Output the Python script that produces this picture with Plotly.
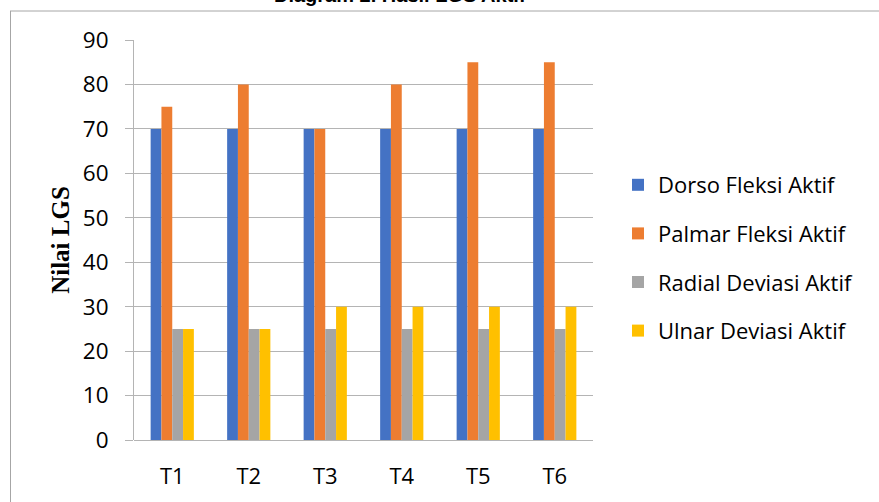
import plotly.graph_objects as go

categories = ["T1", "T2", "T3", "T4", "T5", "T6"]
dorso = [70, 70, 70, 70, 70, 70]
palmar = [75, 80, 70, 80, 85, 85]
radial = [25, 25, 25, 25, 25, 25]
ulnar = [25, 25, 30, 30, 30, 30]
series_names = ["Dorso Fleksi Aktif", "Palmar Fleksi Aktif", "Radial Deviasi Aktif", "Ulnar Deviasi Aktif"]
colors = ["#4472C4", "#ED7D31", "#A5A5A5", "#FFC000"]
y_ticks = [0, 10, 20, 30, 40, 50, 60, 70, 80, 90]

W, H = 879, 502
L, R, T, B = 134, 286, 40, 62
pw, ph = W - L - R, H - T - B

def px(x):
    return (x - L) / pw

def py(y):
    return (H - B - y) / ph

fig = go.Figure()
for name, vals, c in zip(series_names, [dorso, palmar, radial, ulnar], colors):
    fig.add_trace(go.Bar(x=categories, y=vals, name=name, marker=dict(color=c, line=dict(width=0)),
                         legendgroup=name))

font_main = "Open Sans, Noto Sans, sans-serif"
fig.update_layout(
    width=W, height=H,
    margin=dict(l=L, r=R, t=T, b=B, autoexpand=False),
    paper_bgcolor="white", plot_bgcolor="white",
    barmode="group", bargap=0.435, bargroupgap=0,
    font=dict(family=font_main, size=20, color="#000000"),
    showlegend=True,
    legend=dict(x=px(618), y=py(258), xanchor="left", yanchor="middle",
                font=dict(family=font_main, size=22, color="#000000"),
                traceorder="grouped", tracegroupgap=17, itemwidth=30,
                bgcolor="rgba(0,0,0,0)"),
    xaxis=dict(showgrid=False, showline=False, zeroline=False,
               ticks="outside", ticklen=17, tickcolor="rgba(0,0,0,0)",
               tickfont=dict(family=font_main, size=22, color="#000000")),
    yaxis=dict(range=[0, 90], tickvals=y_ticks, showgrid=True, gridcolor="#B4B4B4", gridwidth=1,
               zeroline=True, zerolinecolor="#B4B4B4", zerolinewidth=1,
               showline=True, linecolor="#B4B4B4", linewidth=1,
               ticks="outside", ticklen=8, tickcolor="#B4B4B4",
               ticklabelstandoff=12,
               tickfont=dict(family=font_main, size=22.5, color="#000000"),
               title=dict(text="<b>Nilai LGS</b>", standoff=6,
                          font=dict(family="Liberation Serif, Times New Roman, serif", size=25, color="#000000"))),
    shapes=[
        dict(type="line", xref="paper", yref="paper", x0=px(10), x1=px(879), y0=py(11), y1=py(11),
             line=dict(color="#A6A6A6", width=1)),
        dict(type="line", xref="paper", yref="paper", x0=px(10.5), x1=px(10.5), y0=py(11), y1=py(502),
             line=dict(color="#A6A6A6", width=1)),
    ],
    annotations=[
        dict(text="<b>Diagram 2. Hasil LGS Aktif</b>", xref="paper", yref="paper",
             x=px(400), y=py(8), xanchor="center", yanchor="bottom", showarrow=False,
             font=dict(family="Liberation Sans, Arial, sans-serif", size=20, color="#000000")),
    ],
)

fig.write_html("out.html")
